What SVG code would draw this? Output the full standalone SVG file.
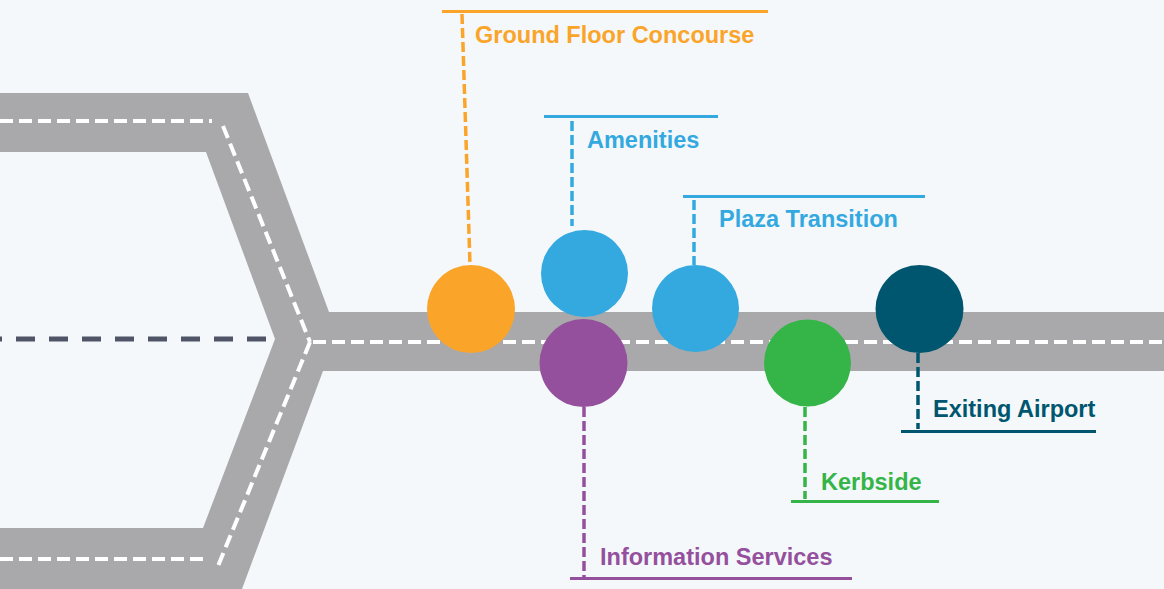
<svg xmlns="http://www.w3.org/2000/svg" width="1164" height="589" viewBox="0 0 1164 589">
  <style>
    .lbl { font-family: "Liberation Sans", Arial, Helvetica, sans-serif; font-weight: 700; font-size: 23.5px; }
    .lane { fill: none; stroke: #ffffff; stroke-width: 4; stroke-dasharray: 13 6; }
    .bar { fill: none; stroke-width: 3; }
    .lead { fill: none; stroke-width: 3.5; stroke-dasharray: 10 4; }
    .orange { fill: #FAA52A; } .s-orange { stroke: #FAA52A; }
    .blue { fill: #34A9E0; } .s-blue { stroke: #34A9E0; }
    .purple { fill: #94509D; } .s-purple { stroke: #94509D; }
    .green { fill: #35B548; } .s-green { stroke: #35B548; }
    .teal { fill: #00566E; } .s-teal { stroke: #00566E; }
  </style>
  <rect x="0" y="0" width="1164" height="589" fill="#F4F8FB"/>

  <g id="road">
    <polygon fill="#A9A9AB" points="0,93 248,93 329,312 1164,312 1164,371 323,371 242,589 0,589 0,528 203,528 275,339 206,152 0,152"/>
    <line class="lane" x1="0" y1="121" x2="212" y2="121"/>
    <line class="lane" x1="223" y1="126" x2="310" y2="342"/>
    <line class="lane" x1="310" y1="342" x2="218" y2="566"/>
    <line class="lane" x1="0" y1="559" x2="206" y2="559"/>
    <line class="lane" x1="313" y1="342" x2="1164" y2="342"/>
    <line x1="0" y1="339" x2="268" y2="339" stroke="#4F5566" stroke-width="5" stroke-dasharray="19 14" stroke-dashoffset="17"/>
  </g>

  <g id="connectors">
    <line class="lead s-orange" x1="462" y1="14" x2="470" y2="265"/>
    <line class="lead s-blue" x1="572" y1="121" x2="572" y2="226"/>
    <line class="lead s-blue" x1="694" y1="200" x2="694" y2="265"/>
    <line class="lead s-purple" x1="584" y1="407" x2="584" y2="577"/>
    <line class="lead s-green" x1="805" y1="407" x2="805" y2="499"/>
    <line class="lead s-teal" x1="918" y1="353" x2="918" y2="429"/>
  </g>

  <g id="ground-floor-concourse">
    <circle class="orange" cx="471" cy="309" r="44"/>
    <line class="bar s-orange" x1="442" y1="11.5" x2="768" y2="11.5"/>
    <text class="lbl orange" x="475" y="43">Ground Floor Concourse</text>
  </g>

  <g id="amenities">
    <circle class="blue" cx="584.5" cy="273.5" r="43.5"/>
    <line class="bar s-blue" x1="544" y1="116.5" x2="718" y2="116.5"/>
    <text class="lbl blue" x="587" y="147.5">Amenities</text>
  </g>

  <g id="plaza-transition">
    <circle class="blue" cx="695.5" cy="308.5" r="43.5"/>
    <line class="bar s-blue" x1="683" y1="196.5" x2="925" y2="196.5"/>
    <text class="lbl blue" x="719" y="226.5">Plaza Transition</text>
  </g>

  <g id="information-services">
    <circle class="purple" cx="583.5" cy="363" r="44"/>
    <line class="bar s-purple" x1="570" y1="578.5" x2="852" y2="578.5"/>
    <text class="lbl purple" x="600" y="565">Information Services</text>
  </g>

  <g id="kerbside">
    <circle class="green" cx="807.5" cy="363" r="43.5"/>
    <line class="bar s-green" x1="791" y1="501.5" x2="939" y2="501.5"/>
    <text class="lbl green" x="821" y="490">Kerbside</text>
  </g>

  <g id="exiting-airport">
    <circle class="teal" cx="919.5" cy="309" r="44"/>
    <line class="bar s-teal" x1="901" y1="431.5" x2="1096" y2="431.5"/>
    <text class="lbl teal" x="933" y="417">Exiting Airport</text>
  </g>
</svg>
